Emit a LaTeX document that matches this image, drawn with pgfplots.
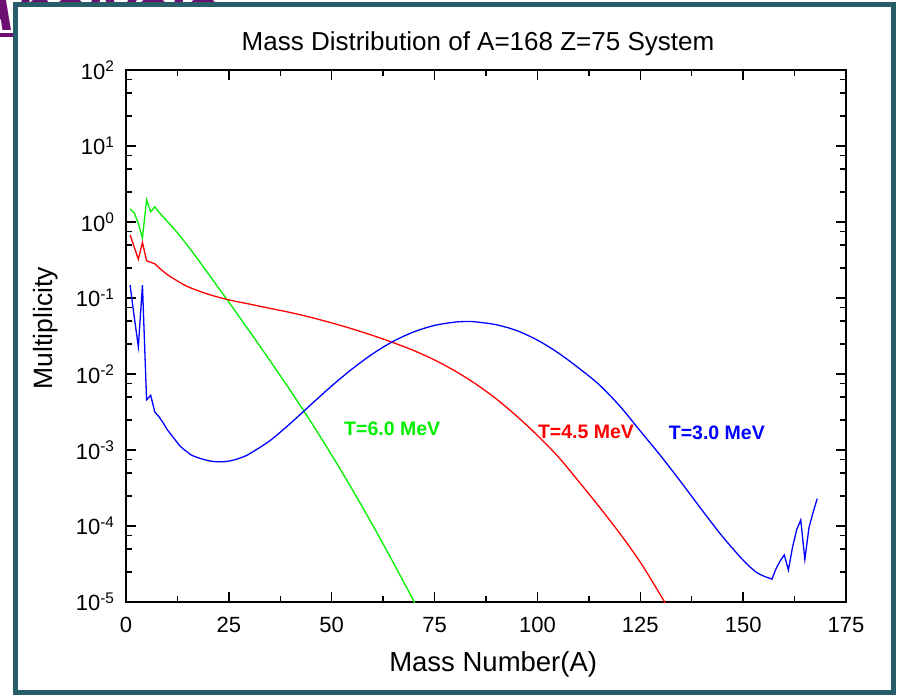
\documentclass[border=0pt]{standalone}
\usepackage{pgfplots}
\pgfplotsset{compat=1.18}
\usepackage{fontspec}
\setmainfont{Liberation Sans}
\definecolor{frameteal}{HTML}{275D69}
\definecolor{slidepurple}{HTML}{6E0F73}
\definecolor{cgreen}{HTML}{00F000}
\definecolor{cred}{HTML}{FF0000}
\definecolor{cblue}{HTML}{0000FF}
\begin{document}
\begin{tikzpicture}[x=1pt,y=1pt]
\useasboundingbox (0,0) rectangle (899,695);
\fill[white] (0,0) rectangle (899,695);
\node[anchor=base west, inner sep=0, text=slidepurple, font=\fontsize{60}{60}\selectfont\bfseries\itshape] at (-28,664) {Analysis};
\draw[slidepurple, line width=4pt] (0,659.5) -- (200,659.5);
\draw[frameteal, line width=5pt, fill=white] (15,2) rectangle (893,690);
\begin{axis}[
  at={(126pt,93pt)}, anchor=south west,
  scale only axis, width=720pt, height=532pt,
  xmin=0, xmax=175,
  ymode=log, log basis y=10, ymin=1e-5, ymax=1e2,
  xtick={0,25,50,75,100,125,150,175},
  minor xtick={12.5,37.5,62.5,87.5,112.5,137.5,162.5},
  ytick={1e-5,1e-4,1e-3,1e-2,1e-1,1,10,100},
  yticklabels={10\textsuperscript{-5},10\textsuperscript{-4},10\textsuperscript{-3},10\textsuperscript{-2},10\textsuperscript{-1},10\textsuperscript{0},10\textsuperscript{1},10\textsuperscript{2}},
  minor ytick={2.5e-5,5e-5,7.5e-5,2.5e-4,5e-4,7.5e-4,2.5e-3,5e-3,7.5e-3,0.025,0.05,0.075,0.25,0.5,0.75,2.5,5,7.5,25,50,75},
  tick align=inside, xtick pos=both, ytick pos=both, xticklabel pos=lower, yticklabel pos=left,
  major tick length=10pt, minor tick length=6pt,
  every tick/.append style={black, line width=1.5pt},
  axis line style={black, line width=2pt},
  /pgf/number format/assume math mode=true,
  ticklabel style={font=\fontsize{22}{26}\selectfont},
  xticklabel style={yshift=-12pt},
  yticklabel style={xshift=-8pt},
  title={Mass Distribution of A=168 Z=75 System},
  title style={font=\fontsize{26}{30}\selectfont, yshift=5pt, xshift=-8pt},
  xlabel={Mass Number(A)},
  xlabel style={font=\fontsize{27.5}{30}\selectfont, at={(axis description cs:0.51,-0.1297)}, anchor=base},
  ylabel={Multiplicity},
  ylabel style={font=\fontsize{26.5}{30}\selectfont, at={(axis description cs:-0.111,0.515)}, anchor=center},
  clip=true,
]
% T = 6.0 MeV (green)
\addplot[cgreen, line width=1.3pt] coordinates {
(1,1.479)(2,1.318)(3,0.955)(4,0.617)(5,1.95)(6,1.365)(7,1.585)(8,1.349)(9,1.175)(10,1.023)
};
\addplot[cgreen, line width=1.3pt, smooth] coordinates {
(10,1.023)(12,0.776)(14,0.571)(16,0.412)(18,0.295)(20,0.209)(25,0.0881)(30,0.0366)(35,0.01496)(40,6.0e-3)(45,2.32e-3)(50,8.57e-4)(55,3.02e-4)(60,1.019e-4)(65,3.27e-5)(70,1.016e-5)(75,3.09e-6)
};
% T = 4.5 MeV (red)
\addplot[cred, line width=1.3pt] coordinates {
(1,0.676)(2,0.468)(3,0.324)(4,0.537)(5,0.309)(6,0.295)(7,0.282)(8,0.251)
};
\addplot[cred, line width=1.3pt, smooth] coordinates {
(8,0.251)(10,0.204)(12,0.174)(15,0.141)(20,0.112)(25,0.0944)(30,0.0832)(35,0.0731)(40,0.0643)(45,0.0555)(50,0.0470)(55,0.0392)(60,0.0321)(65,0.0258)(70,0.0203)(75,0.01528)(80,0.01094)(85,7.40e-3)(90,4.70e-3)(95,2.78e-3)(100,1.556e-3)(105,8.20e-4)(110,3.88e-4)(115,1.795e-4)(120,8.02e-5)(125,3.34e-5)(130,1.213e-5)(135,4.27e-6)
};
% T = 3.0 MeV (blue)
\addplot[cblue, line width=1.3pt] coordinates {
(1,0.148)(2,0.0562)(3,0.0229)(4,0.148)(5,4.57e-3)(6,5.25e-3)(7,3.16e-3)(8,2.75e-3)(9,2.29e-3)(10,1.86e-3)(11,1.585e-3)(12,1.35e-3)(13,1.148e-3)(14,1.023e-3)(15,9.33e-4)
};
\addplot[cblue, line width=1.3pt, smooth] coordinates {
(15,9.33e-4)(16,8.51e-4)(18,7.76e-4)(20,7.24e-4)(22,7.0e-4)(24,7.03e-4)(26,7.33e-4)(28,7.94e-4)(30,8.89e-4)(35,1.33e-3)(40,2.25e-3)(45,3.98e-3)(50,6.97e-3)(55,0.01169)(60,0.01849)(65,0.0270)(70,0.0359)(75,0.0436)(80,0.0482)(83,0.0490)(85,0.0485)(90,0.0445)(95,0.0372)(100,0.0279)(105,0.01905)(110,0.01202)(115,7.24e-3)(120,3.80e-3)(125,1.778e-3)(130,8.32e-4)(135,3.72e-4)(140,1.62e-4)(145,7.24e-5)(150,3.55e-5)(153,2.51e-5)(155,2.19e-5)
};
\addplot[cblue, line width=1.3pt] coordinates {
(155,2.19e-5)(156,2.09e-5)(157,2.0e-5)(158,2.75e-5)(159,3.47e-5)(160,4.17e-5)(161,2.63e-5)(162,5.25e-5)(163,8.91e-5)(164,1.20e-4)(165,3.63e-5)(166,9.55e-5)(167,1.51e-4)(168,2.29e-4)
};
\node[text=cgreen, font=\fontsize{19.5}{22}\selectfont\bfseries] at (axis cs:64.7,1.9e-3) {T=6.0 MeV};
\node[text=cred, font=\fontsize{19.5}{22}\selectfont\bfseries] at (axis cs:111.8,1.73e-3) {T=4.5 MeV};
\node[text=cblue, font=\fontsize{19.5}{22}\selectfont\bfseries] at (axis cs:143.6,1.66e-3) {T=3.0 MeV};
\end{axis}
\end{tikzpicture}
\end{document}
